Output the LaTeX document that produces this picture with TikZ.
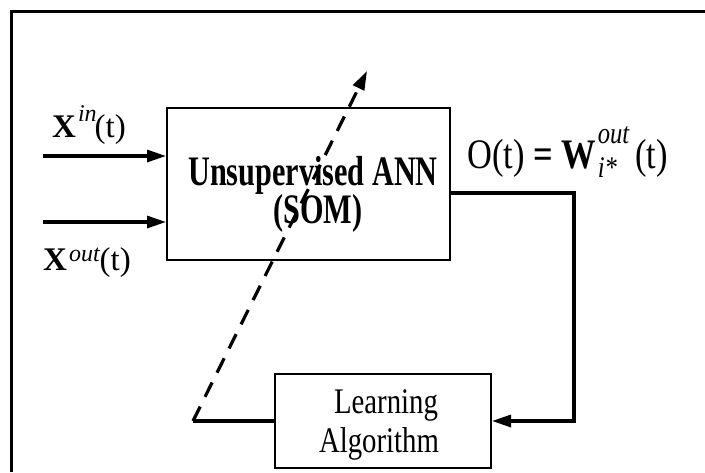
\documentclass[tikz,border=0pt]{standalone}
\usepackage{fontspec}
\setmainfont{Liberation Serif}
\newfontfamily\condfont{Liberation Serif}[FakeStretch=0.8]
\newfontfamily\condboldfont{Liberation Serif}[FakeStretch=0.72]
\newfontfamily\eqfont{Liberation Serif}[FakeStretch=0.82]
\usetikzlibrary{arrows.meta}

% raised / lowered italic indices
\newcommand\hiidx[2]{\raisebox{#1}{\itshape\fontsize{24}{24}\selectfont #2}}
\newcommand\bigidx[2]{\raisebox{#1}{\itshape\fontsize{30}{30}\selectfont #2}}

\begin{document}
\begin{tikzpicture}[x=1pt,y=-1pt,
  wire/.style={line width=3.2pt},
  blockbox/.style={draw,line width=2pt,inner sep=0pt},
  tip/.style={-{Triangle[length=19pt,width=12pt]}},
  lbl/.style={inner sep=0pt,anchor=base},
  boldtxt/.style={font=\condboldfont\bfseries\fontsize{42}{42}\selectfont},
  plaintxt/.style={font=\condfont\fontsize{36}{36}\selectfont},
  sigtxt/.style={font=\fontsize{33}{33}\selectfont},
  eqtxt/.style={font=\eqfont\fontsize{42}{42}\selectfont}]
\useasboundingbox (0,0) rectangle (705,472);

% outer frame (top and left edges)
\draw[line width=3pt] (11,472) |- (705,11);

% blocks
\node[blockbox,minimum width=283pt,minimum height=152pt] (som) at (308.5,184) {};
\node[blockbox,minimum width=216pt,minimum height=94pt] (learn) at (383,421) {};

% block texts
\node[lbl,boldtxt] (somA) at (313,185) {Unsupervised ANN};
\node[lbl,boldtxt] (somB) at (318,223) {(SOM)};
\node[lbl,plaintxt] (learnA) at (386,413) {Learning};
\node[lbl,plaintxt] (learnB) at (379,452) {Algorithm};

% inputs
\coordinate (inA) at (43,156);
\coordinate (inB) at (43,222);
\draw[wire,tip] (inA) -- (som.west |- inA);
\draw[wire,tip] (inB) -- (som.west |- inB);
\node[lbl,sigtxt,anchor=base west] (xin) at (52,137)
  {\textbf{X}\hspace{2pt}\hiidx{16pt}{in}\hspace{-2pt}(t)};
\node[lbl,sigtxt,anchor=base west] (xout) at (43,270)
  {\textbf{X}\hspace{2pt}\hiidx{9pt}{out}(t)};

% output and feedback to the learning block
\coordinate (oc) at (574,193);
\draw[wire,tip] (som.east |- oc) -- (oc) |- (learn.east);
\node[lbl,eqtxt,anchor=base west] (olbl) at (467,168)
  {O(t) \textbf{=} \textbf{W}\hspace{2pt}\rlap{\bigidx{25pt}{out}}\bigidx{-9pt}{i*}\hspace{18pt}(t)};

% weight adaptation (dashed arrow through the network block)
\coordinate (fb) at (193,421);
\coordinate (adj) at (367,71);
\draw[wire] (learn.west) -- (fb);
\draw[wire,line cap=butt,dash pattern=on 16pt off 11pt,tip] (fb) -- (adj);
\end{tikzpicture}
\end{document}
